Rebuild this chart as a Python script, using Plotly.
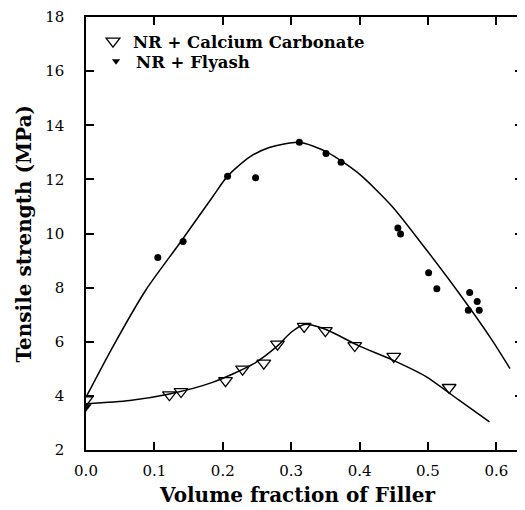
import plotly.graph_objects as go

# Measured data points
caco3_x = [0.0, 0.122, 0.139, 0.204, 0.229, 0.260, 0.280, 0.319, 0.350, 0.393, 0.450, 0.531]
caco3_y = [3.85, 4.04, 4.16, 4.56, 4.99, 5.21, 5.91, 6.57, 6.41, 5.86, 5.46, 4.31]

flyash_x = [0.0, 0.105, 0.142, 0.207, 0.248, 0.312, 0.351, 0.373, 0.456, 0.460,
            0.501, 0.513, 0.561, 0.572, 0.559, 0.575]
flyash_y = [3.6, 9.11, 9.70, 12.12, 12.06, 13.37, 12.96, 12.63, 10.20, 9.98,
            8.55, 7.96, 7.82, 7.49, 7.16, 7.16]

# Fitted curves
caco3_fit_x = [0.0, 0.064, 0.122, 0.185, 0.244, 0.280, 0.300, 0.319, 0.350, 0.399, 0.447, 0.496, 0.545, 0.590]
caco3_fit_y = [3.71, 3.83, 4.07, 4.50, 5.17, 5.85, 6.35, 6.64, 6.46, 5.85, 5.34, 4.73, 3.85, 3.04]

flyash_fit_x = [0.0, 0.040, 0.088, 0.137, 0.185, 0.207, 0.239, 0.268, 0.312, 0.353, 0.399, 0.448, 0.498, 0.545, 0.593, 0.620]
flyash_fit_y = [3.95, 5.85, 7.93, 9.64, 11.35, 12.12, 12.82, 13.18, 13.37, 13.00, 12.21, 10.99, 9.39, 7.81, 6.09, 5.01]

x_ticks = [0.0, 0.1, 0.2, 0.3, 0.4, 0.5, 0.6]
x_tick_labels = ["0.0", "0.1", "0.2", "0.3", "0.4", "0.5", "0.6"]
y_ticks = [2, 4, 6, 8, 10, 12, 14, 16, 18]

FONT = "DejaVu Serif"

fig = go.Figure()
fig.add_trace(go.Scatter(x=flyash_fit_x, y=flyash_fit_y, mode="lines",
                         line=dict(color="black", width=1.5, shape="spline", smoothing=0.7),
                         showlegend=False, hoverinfo="skip"))
fig.add_trace(go.Scatter(x=caco3_fit_x, y=caco3_fit_y, mode="lines",
                         line=dict(color="black", width=1.5, shape="spline", smoothing=0.7),
                         showlegend=False, hoverinfo="skip"))
fig.add_trace(go.Scatter(x=caco3_x, y=caco3_y, mode="markers", name="NR + Calcium Carbonate",
                         legend="legend",
                         marker=dict(symbol="triangle-down-open", size=12, color="black",
                                     line=dict(width=1.3, color="black"))))
fly_symbols = ["triangle-down"] + ["circle"] * (len(flyash_x) - 1)
fly_sizes = [10] + [7] * (len(flyash_x) - 1)
fig.add_trace(go.Scatter(x=flyash_x, y=flyash_y, mode="markers", name="NR + Flyash",
                         legend="legend2",
                         marker=dict(symbol=fly_symbols, size=fly_sizes, color="black",
                                     opacity=1, line=dict(width=0))))

axis_common = dict(showline=True, linecolor="black", linewidth=1.5, mirror="ticks",
                   ticks="inside", ticklen=8, tickwidth=1.5, tickcolor="black",
                   showgrid=False, zeroline=False, ticklabeloverflow="allow",
                   tickfont=dict(family=FONT, size=15, color="black"))
fig.update_xaxes(range=[0, 0.639], tickvals=x_ticks, ticktext=x_tick_labels,
                 ticklabelstandoff=6, **axis_common)
fig.update_yaxes(range=[2, 18], tickvals=y_ticks, ticklabelstandoff=17, **axis_common)

legend_font = dict(family=FONT, size=16.5, color="black", weight="bold")
fig.update_layout(
    width=517, height=502,
    margin=dict(l=78, r=0, t=8, b=60),
    paper_bgcolor="white", plot_bgcolor="white",
    showlegend=True,
    legend=dict(x=0.016, y=0.984, xanchor="left", yanchor="top",
                bgcolor="rgba(0,0,0,0)", borderwidth=0, font=legend_font, itemwidth=30),
    legend2=dict(x=0.023, y=0.938, xanchor="left", yanchor="top",
                 bgcolor="rgba(0,0,0,0)", borderwidth=0, font=legend_font, itemwidth=30),
    annotations=[
        dict(text="Volume fraction of Filler", xref="paper", yref="paper",
             x=0.483, y=-0.1037, xanchor="center", yanchor="middle", showarrow=False,
             font=dict(family=FONT, size=20, color="black", weight="bold")),
        dict(text="Tensile strength (MPa)", xref="paper", yref="paper",
             x=0, y=0.5, xshift=-63, xanchor="center", yanchor="middle", textangle=-90,
             showarrow=False,
             font=dict(family=FONT, size=20, color="black", weight="bold")),
    ],
)

fig.write_html("out.html")
